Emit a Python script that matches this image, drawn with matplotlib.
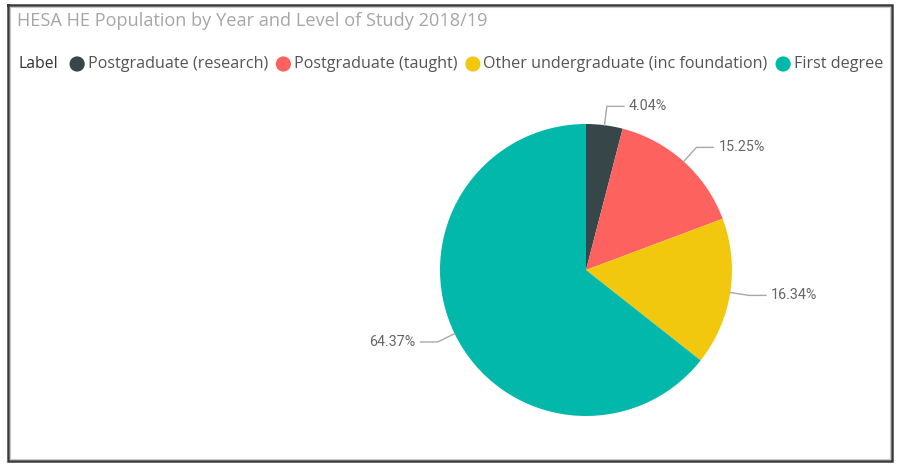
import numpy as np
import matplotlib
matplotlib.use("Agg")
import matplotlib.pyplot as plt

title = "HESA HE Population by Year and Level of Study 2018/19"
categories = ["Postgraduate (research)", "Postgraduate (taught)",
              "Other undergraduate (inc foundation)", "First degree"]
shares = [4.04, 15.25, 16.34, 64.37]
colors = ["#374649", "#FD625E", "#F2C80F", "#01B8AA"]

W, H = 897, 467
fig = plt.figure(figsize=(W / 100, H / 100), dpi=100)
ax = fig.add_axes([0, 0, 1, 1])
ax.set_xlim(0, W)
ax.set_ylim(H, 0)
ax.axis("off")
plt.rcParams["font.family"] = ["Open Sans", "DejaVu Sans"]

# frame
ax.plot([8, 892, 892, 8, 8], [5, 5, 461, 461, 5], color="#3a3a3a", lw=1.8,
        solid_joinstyle="miter")
ax.plot([10, 890, 890, 10, 10], [7, 7, 459, 459, 7], color="#c8c8c8", lw=0.8)

ax.text(17, 21, title, fontsize=13.1, color="#a6a6a6", va="center", ha="left")

# legend built item by item
fig.canvas.draw()
r = fig.canvas.get_renderer()
t = ax.text(18, 64, "Label", fontsize=11.3, color="#333333", va="center", ha="left")
x = t.get_window_extent(r).x1 + 12
for name, c in zip(categories, colors):
    ax.scatter([x + 7.5], [64], s=120, color=c, edgecolors="none")
    t = ax.text(x + 18, 64, name, fontsize=11.6, color="#555555", va="center", ha="left")
    x = t.get_window_extent(r).x1 + 8

# pie in a second axes with normal y direction
cx, cy, R = 586, 270, 146
pax = fig.add_axes([0, 0, 1, 1])
pax.pie(shares, colors=colors, startangle=90, counterclock=False,
        center=(cx, H - cy), radius=R, frame=True,
        wedgeprops=dict(linewidth=0))
pax.set_xlim(0, W)
pax.set_ylim(0, H)
pax.set_aspect("equal")
pax.axis("off")

start = 90.0
for v in shares:
    ang = np.deg2rad(start - v * 3.6 / 2)
    start -= v * 3.6
    x0, y0 = cx + R * np.cos(ang), (H - cy) + R * np.sin(ang)
    x1, y1 = cx + 1.13 * R * np.cos(ang), (H - cy) + 1.13 * R * np.sin(ang)
    side = 1 if np.cos(ang) >= 0 else -1
    x2 = x1 + side * 17
    pax.plot([x0, x1, x2], [y0, y1, y1], color="#a8a8a8", lw=1)
    pax.text(x2 + side * 5, y1, f"{v:.2f}%", fontsize=10.3, color="#666666",
             va="center", ha="left" if side > 0 else "right",
             family=["Roboto", "DejaVu Sans"])

fig.savefig("out.png", dpi=100)
